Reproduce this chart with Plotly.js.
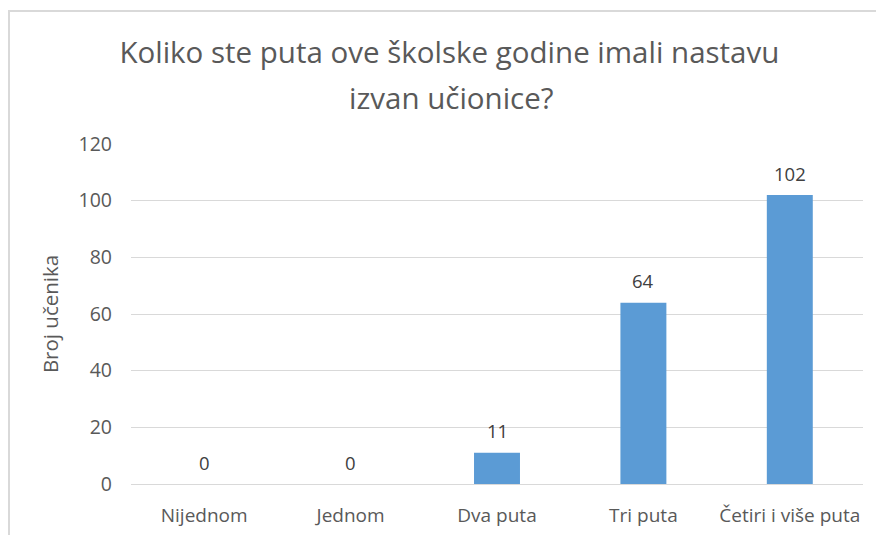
<!DOCTYPE html>
<html><head><meta charset="utf-8">
<script src="https://cdn.plot.ly/plotly-3.0.1.min.js"></script>
<style>
html,body{margin:0;padding:0;background:#fff;overflow:hidden}
#wrap{position:relative;width:876px;height:535px}
#chart{width:876px;height:535px}
#frame{position:absolute;left:8px;top:10px;width:900px;height:600px;border:2px solid #d9d9d9;pointer-events:none;box-sizing:border-box}
</style></head>
<body><div id="wrap"><div id="chart"></div><div id="frame"></div></div>
<script>
const categories = ["Nijednom", "Jednom", "Dva puta", "Tri puta", "Četiri i više puta"];
const values = [0, 0, 11, 64, 102];
const yTicks = [0, 20, 40, 60, 80, 100, 120];
const titleLine1 = "Koliko ste puta ove školske godine imali nastavu";
const titleLine2 = "izvan učionice?";
const yTitle = "Broj učenika";

const font = "'Open Sans', sans-serif";
const labelAnnotations = categories.map((c, i) => ({
  x: c, y: values[i], xref: "x", yref: "y",
  text: String(values[i]), showarrow: false,
  xanchor: "center", yanchor: "middle", yshift: 22,
  font: {family: font, size: 18.5, color: "#404040"}
}));
Plotly.newPlot("chart", [{
  type: "bar",
  x: categories,
  y: values,
  marker: {color: "#5B9BD5"},
  hoverinfo: "none"
}], {
  width: 876, height: 535,
  margin: {l: 131, r: 13, t: 144, b: 51, pad: 0},
  paper_bgcolor: "#fff", plot_bgcolor: "#fff",
  bargap: 0.686,
  showlegend: false,
  title: {text: titleLine1, font: {family: font, size: 29.5, color: "#595959"}, x: 0.513, xanchor: "center", y: 0.902, yanchor: "middle"},
  annotations: [{
    text: titleLine2, xref: "paper", yref: "paper", x: 0.438, y: (535 - 51 - 97) / (535 - 144 - 51),
    xanchor: "center", yanchor: "middle", showarrow: false,
    font: {family: font, size: 29.5, color: "#595959"}
  }].concat(labelAnnotations),
  xaxis: {
    tickfont: {family: font, size: 19, color: "#595959"},
    showgrid: false, zeroline: false, showline: false, ticks: "", ticklabelstandoff: 18
  },
  yaxis: {
    range: [0, 120], tickvals: yTicks, ticktext: yTicks.map(String),
    tickfont: {family: font, size: 19.5, color: "#595959"},
    gridcolor: "#d9d9d9", gridwidth: 1, zeroline: true, zerolinecolor: "#d9d9d9", zerolinewidth: 1,
    showline: false, ticks: "", ticklabelstandoff: 18,
    title: {text: yTitle, font: {family: font, size: 20.5, color: "#595959"}, standoff: 14}
  }
}, {staticPlot: true});
</script></body></html>
